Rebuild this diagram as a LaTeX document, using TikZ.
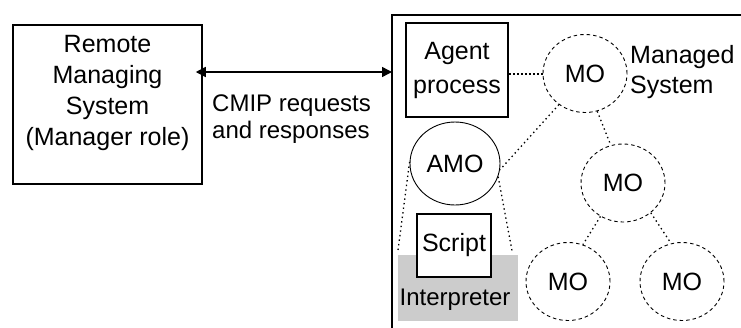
\documentclass[tikz,border=0pt]{standalone}
\usepackage{fontspec}
\setmainfont{Liberation Sans}
\usetikzlibrary{arrows.meta,shapes.geometric}
\begin{document}
\begin{tikzpicture}[x=1pt,y=-1pt,
  txt/.style={font=\fontsize{25pt}{31pt}\selectfont, inner sep=0pt},
  boxnode/.style={draw, line width=1.5pt, inner sep=0pt, align=center, font=\fontsize{25pt}{34pt}\selectfont},
  monode/.style={ellipse, draw, line width=0.9pt, dash pattern=on 3.5pt off 3pt, minimum width=84pt, minimum height=78pt, inner sep=0pt, font=\fontsize{25pt}{30pt}\selectfont},
  dotline/.style={line width=1.3pt, dash pattern=on 1.4pt off 3.2pt},
  frameline/.style={line width=2.3pt},
  arr/.style={line width=1.5pt, {Triangle[length=10pt,width=10pt]}-{Triangle[length=10pt,width=10pt]}}
]
\useasboundingbox (0,0) rectangle (741,327);

% left managing system
\node[boxnode, minimum width=189pt, minimum height=159pt] (lbox) at (107.5,104.5) {};
\node[txt, align=center, anchor=north] (lboxtext) at (107.5,35.5) {Remote\\Managing\\System\\(Manager role)};

% managed system frame
\coordinate (ftl) at (392,15);
\coordinate (ftr) at (745,15);
\coordinate (fbl) at (392,332);
\coordinate (fleft) at (392,72);
\draw[frameline] (ftr) -- (ftl) -- (fbl);

% arrow
\draw[arr, shorten <=-7pt] ([yshift=32.5pt]lbox.east) -- (fleft);
\node[txt, font=\fontsize{24pt}{27pt}\selectfont, align=left, anchor=north west] (cmip) at (212,94.5) {CMIP requests\\and responses};

% agent process
\node[boxnode, minimum width=102pt, minimum height=94pt] (agent) at (457,70) {Agent\\process};

% gray interpreter area
\node[fill={rgb,255:red,204;green,204;blue,204}, minimum width=120pt, minimum height=66pt, inner sep=0pt] (interp) at (458,288) {};
\node[txt, font=\fontsize{24pt}{28pt}\selectfont, anchor=base] (interptext) at (455,305) {Interpreter};

% script box
\node[boxnode, fill=white, minimum width=74pt, minimum height=63pt] (script) at (454,245.5) {Script};

% AMO
\node[ellipse, draw, line width=0.9pt, minimum width=90pt, minimum height=83pt, inner sep=0pt, font=\fontsize{25pt}{30pt}\selectfont] (amo) at (455,163.5) {AMO};

% MOs
\node[monode] (mo1) at (585,73.5) {MO};
\node[monode] (mo2) at (623,183) {MO};
\node[monode] (mo3) at (568,281.5) {MO};
\node[monode] (mo4) at (682,281.5) {MO};

\node[txt, font=\fontsize{25pt}{30pt}\selectfont, align=left, anchor=north west] (managed) at (630,45) {Managed\\System};

% connectors
\draw[line width=1.5pt, dash pattern=on 2pt off 2pt] ([yshift=-4pt]agent.east) -- ([yshift=-4pt]agent.east -| mo1.west);
\draw[dotline] (mo1.230) -- (amo.352);
\draw[dotline] (mo1.288) -- (mo2.108);
\draw[dotline] (mo2.236) -- (mo3.68);
\draw[dotline] (mo2.313) -- (mo4.106);
\draw[dotline] (amo.178) -- ([yshift=3pt]interp.north west);
\draw[dotline] (amo.343) -- ([xshift=-6pt,yshift=3pt]interp.north east);
\end{tikzpicture}
\end{document}
